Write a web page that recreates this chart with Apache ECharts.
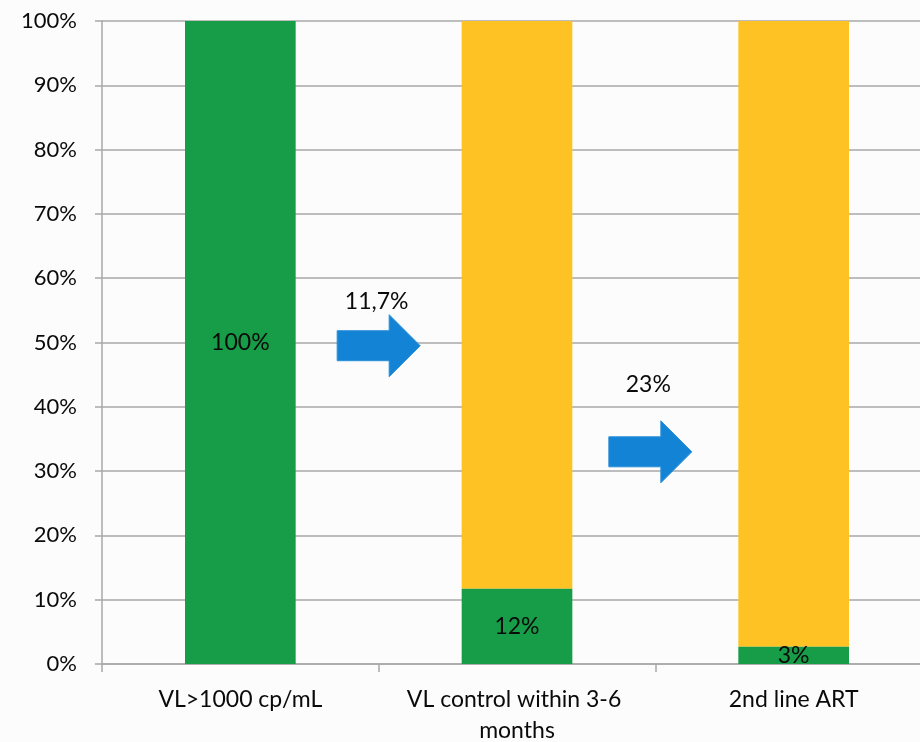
<!DOCTYPE html>
<html>
<head>
<meta charset="utf-8">
<script src="https://cdn.jsdelivr.net/npm/echarts@6/dist/echarts.min.js"></script>
<style>
  html, body { margin: 0; padding: 0; background: #fcfcfc; }
  #chart { width: 920px; height: 742px; }
</style>
</head>
<body>
<div id="chart"></div>
<script>
// Cascade of patients with high viral load
const categories = ['VL>1000 cp/mL', 'VL control within 3-6 months', '2nd line ART'];
const reached = [100, 11.7, 2.7];        // green share (%)
const remaining = [0, 88.3, 97.3];       // yellow share (%)
const yTicks = [0, 10, 20, 30, 40, 50, 60, 70, 80, 90, 100];
const stepRates = ['11,7%', '23%'];      // conversion between consecutive stages
const stepLevels = [49.5, 33];           // y level (%) where each step arrow sits

const FONT = 'Lato, "Open Sans", sans-serif';
const GREEN = '#179c47';
const YELLOW = '#fec224';
const BLUE = '#1383d5';
const GRID = '#a8a8a8';
const INK = '#0a0a0a';

const chart = echarts.init(document.getElementById('chart'), null, { renderer: 'canvas' });

chart.setOption({
  backgroundColor: '#fcfcfc',
  animation: false,
  grid: { left: 102, top: 21, bottom: 78, right: -12, outerBoundsMode: 'none' },
  xAxis: {
    type: 'category',
    data: categories,
    axisLine: { lineStyle: { color: GRID, width: 1.5 } },
    axisTick: { show: true, length: 8, lineStyle: { color: GRID, width: 1.5 } },
    axisLabel: {
      color: INK,
      fontFamily: FONT,
      fontSize: 23,
      lineHeight: 31,
      margin: 20,
      width: 260,
      overflow: 'break',
      interval: 0
    }
  },
  yAxis: {
    type: 'value',
    min: yTicks[0],
    max: yTicks[yTicks.length - 1],
    interval: yTicks[1] - yTicks[0],
    axisLine: { show: true, lineStyle: { color: GRID, width: 1.5 } },
    axisTick: { show: true, length: 7, lineStyle: { color: GRID, width: 1.5 } },
    splitLine: { lineStyle: { color: GRID, width: 1.5 } },
    axisLabel: {
      color: INK,
      fontFamily: FONT,
      fontSize: 22,
      margin: 25,
      formatter: '{value}%'
    }
  },
  series: [
    {
      name: 'reached',
      type: 'bar',
      stack: 'total',
      barWidth: '40%',
      data: reached,
      itemStyle: { color: GREEN },
      label: {
        show: true,
        position: 'inside',
        color: INK,
        fontFamily: FONT,
        fontSize: 23,
        formatter: p => Math.round(p.value) + '%'
      },
      z: 3
    },
    {
      name: 'remaining',
      type: 'bar',
      stack: 'total',
      barWidth: '40%',
      data: remaining,
      itemStyle: { color: YELLOW },
      z: 2
    }
  ]
});

// Step arrows between neighbouring stages, placed via the axes
function arrowShape(cx, cy) {
  const w = 83, body = 30, head = 62, headLen = 31;
  const x0 = cx - w / 2, x1 = cx + w / 2 - headLen, x2 = cx + w / 2;
  return [
    [x0, cy - body / 2], [x1, cy - body / 2], [x1, cy - head / 2],
    [x2, cy], [x1, cy + head / 2], [x1, cy + body / 2], [x0, cy + body / 2]
  ];
}

const textOffsets = [44, 67];
const xShift = [0, -5];
const graphics = [];
stepRates.forEach((rate, i) => {
  const a = chart.convertToPixel({ xAxisIndex: 0 }, categories[i]);
  const b = chart.convertToPixel({ xAxisIndex: 0 }, categories[i + 1]);
  const cx = (a + b) / 2 + xShift[i];
  const cy = chart.convertToPixel({ yAxisIndex: 0 }, stepLevels[i]);
  graphics.push({
    type: 'polygon',
    shape: { points: arrowShape(cx, cy) },
    style: { fill: BLUE, stroke: '#2a8fd8', lineWidth: 1 },
    z: 10
  });
  graphics.push({
    type: 'text',
    x: cx - 2,
    y: cy - textOffsets[i],
    style: {
      text: rate,
      fill: INK,
      font: '23px ' + FONT,
      align: 'center',
      verticalAlign: 'middle'
    },
    z: 10
  });
});
chart.setOption({ graphic: graphics });
</script>
</body>
</html>
